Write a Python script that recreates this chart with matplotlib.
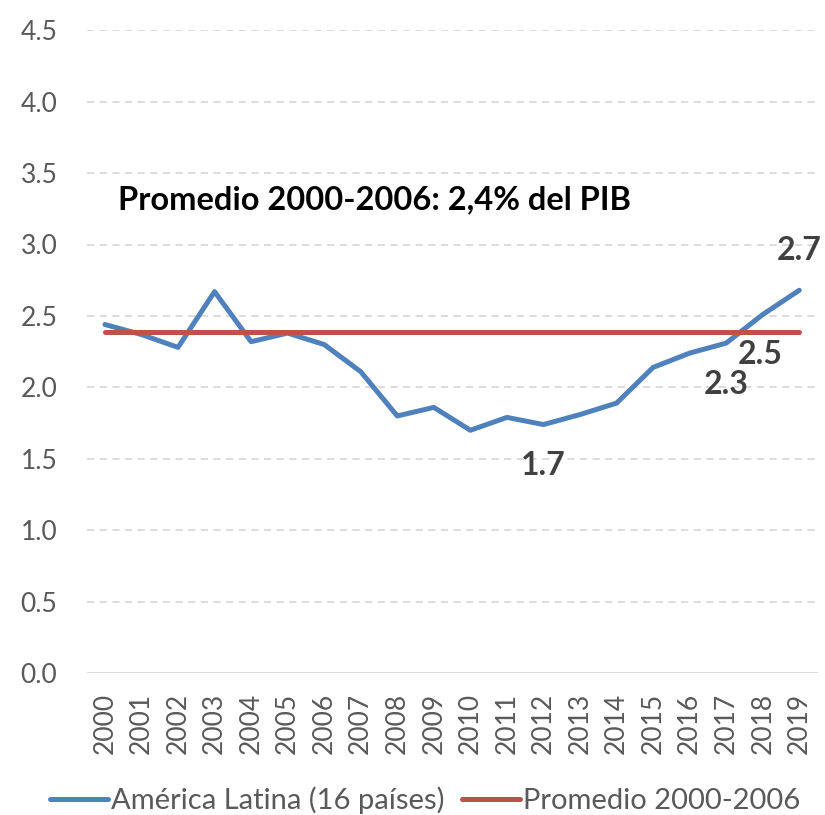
import matplotlib
matplotlib.use("Agg")
from matplotlib import pyplot as plt

plt.rcParams['font.family'] = ['Lato', 'DejaVu Sans']

years = [str(y) for y in range(2000, 2020)]
america_latina = [2.44, 2.37, 2.28, 2.67, 2.32, 2.38, 2.30, 2.11, 1.80, 1.86,
                  1.70, 1.79, 1.74, 1.81, 1.89, 2.14, 2.24, 2.31, 2.51, 2.68]
promedio = 2.39
yticks = [0.0, 0.5, 1.0, 1.5, 2.0, 2.5, 3.0, 3.5, 4.0, 4.5]

# labelled points: (index, text, x offset, y position)
labels = [(12, "1.7", 0.0, 1.45), (17, "2.3", 0.0, 2.02),
          (18, "2.5", -0.06, 2.23), (19, "2.7", 0.0, 2.96)]

blue = "#4F81BD"
red = "#C0504D"
grey = "#595959"

fig = plt.figure(figsize=(8.25, 8.15), dpi=100)
ax = fig.add_axes([0.105, 0.174, 0.886, 0.789])

x = list(range(len(years)))
ax.plot(x, america_latina, color=blue, lw=3.6, solid_capstyle='round',
        solid_joinstyle='round', label="América Latina (16 países)")
ax.plot(x, [promedio] * len(x), color=red, lw=3.6, solid_capstyle='round',
        label="Promedio 2000-2006")

for i, txt, dx, ypos in labels:
    ax.text(i + dx, ypos, txt, ha='center', va='center', fontsize=23,
            fontweight='bold', color="#404040")

ax.text(0.36, 3.31, "Promedio 2000-2006: 2,4% del PIB", ha='left', va='center',
        fontsize=23.5, fontweight='bold', color='black')

ax.set_xlim(-0.5, len(years) - 0.5)
ax.set_ylim(0, 4.5)
ax.set_yticks(yticks)
ax.set_yticklabels([f"{v:.1f}" for v in yticks])
ax.set_xticks(x)
ax.set_xticklabels(years, rotation=90)
ax.tick_params(axis='both', length=0, labelsize=19, labelcolor=grey)
ax.tick_params(axis='y', pad=21)
ax.tick_params(axis='x', pad=14)

ax.yaxis.grid(True, color="#D9D9D9", linestyle=(0, (4, 3)), lw=1.3)
ax.set_axisbelow(True)
for s in ax.spines.values():
    s.set_visible(False)
ax.axhline(0, color="#D9D9D9", lw=1.3)

handles, names = ax.get_legend_handles_labels()
leg = fig.legend(handles, names, loc='center', bbox_to_anchor=(0.515, 0.018),
                 ncol=2, frameon=False, fontsize=21, handlelength=2.0,
                 columnspacing=0.6, handletextpad=0.1, borderaxespad=0)
for t in leg.get_texts():
    t.set_color(grey)

fig.savefig("out.png", dpi=100)
